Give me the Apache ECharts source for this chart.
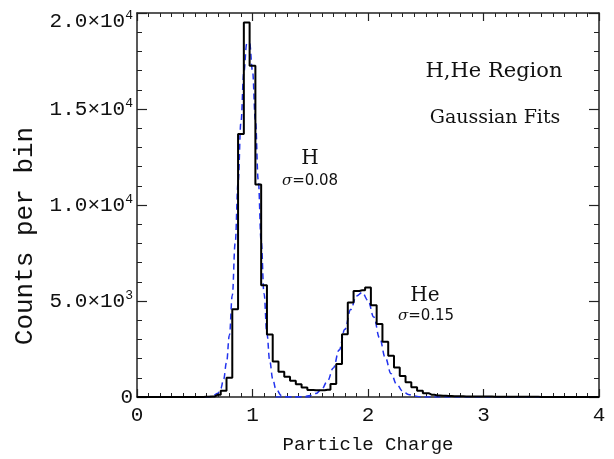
<!DOCTYPE html>
<html>
<head>
<meta charset="utf-8">
<script src="https://cdn.jsdelivr.net/npm/echarts@6/dist/echarts.min.js"></script>
<style>html,body{margin:0;padding:0;background:#fff;}#c{width:614px;height:459px;}</style>
</head>
<body>
<div id="c"></div>
<script>
// ---- data ----
// histogram: bin centres (width 0.05) and counts per bin
var histX = [0.00,0.05,0.10,0.15,0.20,0.25,0.30,0.35,0.40,0.45,
             0.50,0.55,0.60,0.65,0.70,0.75,0.80,0.85,0.90,0.95,
             1.00,1.05,1.10,1.15,1.20,1.25,1.30,1.35,1.40,1.45,
             1.50,1.55,1.60,1.65,1.70,1.75,1.80,1.85,1.90,1.95,
             2.00,2.05,2.10,2.15,2.20,2.25,2.30,2.35,2.40,2.45,
             2.50,2.55,2.60,2.65,2.70,2.75,2.80,2.85,2.90,2.95,
             3.00,3.05,3.10,3.15,3.20,3.25,3.30,3.35,3.40,3.45,
             3.50,3.55,3.60,3.65,3.70,3.75,3.80,3.85,3.90,3.95,4.00];
var histY = [0,0,0,0,0,0,0,0,0,0,
             0,5,10,30,120,330,1000,4570,13700,19500,
             17250,11070,5820,3250,1850,1320,1050,840,660,500,
             370,350,350,380,680,1720,3270,4920,5520,5560,
             5700,4780,3800,2880,2150,1540,1100,765,505,330,
             200,120,80,60,50,40,35,30,25,25,
             20,20,15,15,10,10,8,8,8,8,
             6,6,6,5,5,5,5,5,5,5,5];

// Gaussian fit curves
var fitHX = [0.50,0.60,0.65,0.70,0.725,0.75,0.775,0.80,0.825,0.85,0.875,0.90,0.925,0.95,0.975,
             1.00,1.025,1.05,1.075,1.10,1.125,1.15,1.175,1.20,1.25,1.30,1.35,1.50];
var fitHY = [0,3,29,193,441,929,1800,3216,5287,8000,11152,14311,16907,18393,18424,
             16993,14430,11282,8122,5383,3285,1847,956,455,81,10,1,0];

var fitHeX = [1.20,1.35,1.40,1.45,1.50,1.55,1.60,1.65,1.70,1.75,1.80,1.85,1.90,1.95,
              2.00,2.05,2.10,2.15,2.20,2.25,2.30,2.35,2.40,2.45,2.50,2.60,3.50];
var fitHeY = [0,2,8,26,74,185,418,841,1515,2443,3525,4552,5260,5438,
              5031,4165,3085,2045,1214,644,306,130,49,17,5,0,0];

var xTicks = [0,1,2,3,4];
var yTicks = [0,5000,10000,15000,20000];
var yTickText = ['0','5.0×10^3','1.0×10^4','1.5×10^4','2.0×10^4'];

// ---- chart ----
function pairs(xs, ys){ var o=[]; for (var i=0;i<xs.length;i++) o.push([xs[i], ys[i]]); return o; }
function richTick(t){ var k = t.indexOf('^'); return k<0 ? t : t.slice(0,k) + '{s|' + t.slice(k+1) + '}'; }

var AX = '#222';
var FONT = 'Liberation Mono';
var SUP = {fontFamily:FONT, fontSize:13, color:'#111', verticalAlign:'top', lineHeight:14};
var chart = echarts.init(document.getElementById('c'), null, {renderer:'canvas'});

var xBase = {
  type:'value', min:0, max:4, interval:1,
  axisLine:{show:true, onZero:false, lineStyle:{color:AX, width:1.5}},
  axisTick:{show:true, inside:true, length:8, lineStyle:{color:AX, width:1.2}},
  minorTick:{show:true, splitNumber:10, length:4, lineStyle:{color:AX, width:1}},
  splitLine:{show:false}, minorSplitLine:{show:false}
};
var yBase = {
  type:'value', min:0, max:20000, interval:5000,
  axisLine:{show:true, onZero:false, lineStyle:{color:AX, width:1.5}},
  axisTick:{show:true, inside:true, length:10, lineStyle:{color:AX, width:1.2}},
  minorTick:{show:true, splitNumber:5, length:5, lineStyle:{color:AX, width:1}},
  splitLine:{show:false}, minorSplitLine:{show:false}
};

var option = {
  animation:false,
  backgroundColor:'#fff',
  grid:{left:137, right:15, top:13, bottom:61, containLabel:false},
  xAxis:[
    Object.assign({}, xBase, {
      position:'bottom',
      name:'Particle Charge', nameLocation:'middle', nameGap:38,
      nameTextStyle:{fontFamily:FONT, fontSize:19, color:'#111'},
      axisLabel:{show:true, margin:8, fontFamily:FONT, fontSize:21, color:'#111',
        formatter:function(v){ return xTicks.indexOf(v)>=0 ? String(v) : ''; }}
    }),
    Object.assign({}, xBase, {position:'top', axisLabel:{show:false}})
  ],
  yAxis:[
    Object.assign({}, yBase, {
      position:'left',
      axisLabel:{show:true, margin:4, fontFamily:FONT, fontSize:21, color:'#111', lineHeight:24,
        formatter:function(v){
          var i = yTicks.indexOf(v);
          if (i<0 || i === yTicks.length-1) return '';   // top label drawn below (sits lower, inside the frame height)
          return richTick(yTickText[i]);
        },
        rich:{ s:SUP }
      }
    }),
    Object.assign({}, yBase, {position:'right', axisLabel:{show:false}})
  ],
  series:[
    { type:'line', name:'fitH', xAxisIndex:0, yAxisIndex:0, data:pairs(fitHX, fitHY),
      smooth:0.4, smoothMonotone:'x', showSymbol:false, z:2,
      lineStyle:{color:'#2233ee', width:1.5, type:[6,4]} },
    { type:'line', name:'fitHe', xAxisIndex:0, yAxisIndex:0, data:pairs(fitHeX, fitHeY),
      smooth:0.4, smoothMonotone:'x', showSymbol:false, z:2,
      lineStyle:{color:'#2233ee', width:1.5, type:[6,4]} },
    { type:'line', name:'hist', xAxisIndex:0, yAxisIndex:0, data:pairs(histX, histY),
      step:'middle', showSymbol:false, z:3,
      lineStyle:{color:'#000', width:2} }
  ],
  graphic:[
    {type:'text', x:133, y:21, style:{text:richTick(yTickText[yTickText.length-1]), font:'21px "Liberation Mono"', lineHeight:24, fill:'#111', align:'right', verticalAlign:'middle', rich:{s:{font:'13px "Liberation Mono"', fill:'#111', verticalAlign:'top', lineHeight:14}}}},
    {type:'text', x:25, y:236, rotation:Math.PI/2, style:{text:'Counts per bin', font:'26px "Liberation Mono"', fill:'#111', align:'center', verticalAlign:'middle'}},
    {type:'text', x:494, y:72, style:{text:'H,He Region', font:'21px "DejaVu Serif"', fill:'#111', align:'center', verticalAlign:'middle'}},
    {type:'text', x:495, y:118, style:{text:'Gaussian Fits', font:'19px "DejaVu Serif"', fill:'#111', align:'center', verticalAlign:'middle'}},
    {type:'text', x:310, y:159, style:{text:'H', font:'20px "DejaVu Serif"', fill:'#111', align:'center', verticalAlign:'middle'}},
    {type:'text', x:310, y:181, style:{
      text:'{g|σ}{n|=0.08}', align:'center', verticalAlign:'middle',
      rich:{g:{font:'italic 15px "DejaVu Serif"', fill:'#111'}, n:{font:'15px "DejaVu Sans"', fill:'#111'}}}},
    {type:'text', x:425, y:296, style:{text:'He', font:'20px "DejaVu Serif"', fill:'#111', align:'center', verticalAlign:'middle'}},
    {type:'text', x:426, y:316, style:{
      text:'{g|σ}{n|=0.15}', align:'center', verticalAlign:'middle',
      rich:{g:{font:'italic 15px "DejaVu Serif"', fill:'#111'}, n:{font:'15px "DejaVu Sans"', fill:'#111'}}}}
  ]
};
chart.setOption(option);
</script>
</body>
</html>
